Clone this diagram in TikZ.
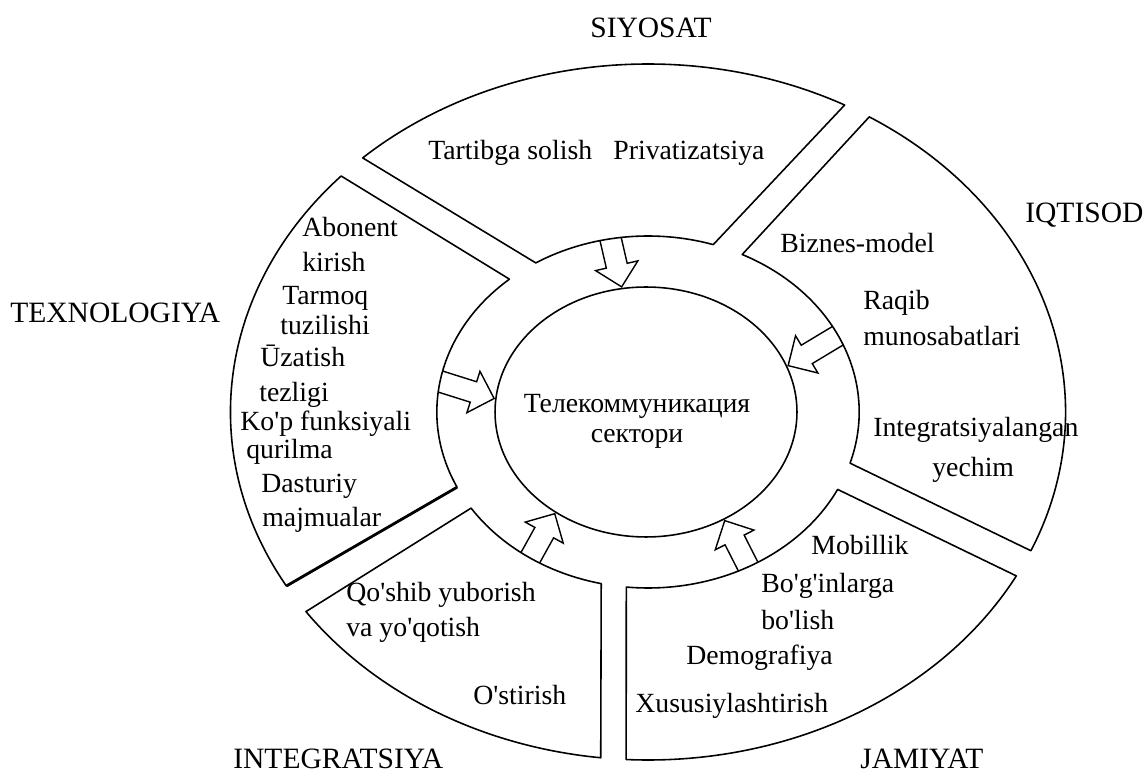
\documentclass[tikz,border=0pt]{standalone}
\usepackage{fontspec}
\setmainfont{Liberation Serif}
\usetikzlibrary{shapes.geometric,shapes.arrows,positioning}
\newcommand{\uzap}{\textquotesingle}

\begin{document}
\begin{tikzpicture}[x=0.02cm,y=-0.02cm,
  sector/.style={draw=black,fill=white,line width=0.9pt,line join=round},
  core/.style={ellipse,draw=black,line width=0.9pt,minimum width=6.04cm,
    minimum height=5cm,inner sep=0pt},
  flow/.style={single arrow,draw=black,fill=white,line width=0.8pt,
    single arrow head extend=0.22cm,single arrow tip angle=90,inner sep=0.2cm,
    minimum width=0pt,minimum height=#1,anchor=tip},
  item/.style={anchor=base west,inner sep=0pt,font=\fontsize{15.8}{18}\selectfont},
  field/.style={anchor=base west,inner sep=0pt,font=\fontsize{16.8}{20}\selectfont}]
  \useasboundingbox (0,0) rectangle (1147,776);

  % --- Markaz ---
  \node[core] (core) at (646,412) {};
  \node[inner sep=0pt,align=center,font=\fontsize{15.8}{17}\selectfont]
        (coreText) at (637,421) {Телекоммуникация\\сектори};

  % --- Strelkalar ---
  \node[flow=1.2cm,rotate=-77] (aSiyosat) at (core.101) {};
  \node[flow=1.28cm,rotate=211] (aIqtisod) at (core.18) {};
  \node[flow=1.36cm,rotate=-17.5] (aTexno) at (core.175) {};
  \node[flow=1.18cm,rotate=61] (aInteg) at (core.-132) {};
  \node[flow=1.26cm,rotate=117] (aJamiyat) at (core.-54) {};

  % --- Sektorlar (halqa) ---
  \begin{scope}[shift={(648,412)},x=0.024cm,y=0.02cm]
    \draw[sector] (72:176) -- (61.9:348) arc[start angle=61.9,end angle=133.1,radius=348]
      -- (122.1:176) arc[start angle=122.1,end angle=72,radius=176] -- cycle;           % siyosat
    \draw[sector] (63.5:176) -- (58:348) arc[start angle=58,end angle=-23.5,radius=348]
      -- (-16.9:176) arc[start angle=-16.9,end angle=63.5,radius=176] -- cycle;         % iqtisod
    \draw[sector] (-26.1:176) -- (-28.1:348) arc[start angle=-28.1,end angle=-93,radius=348]
      -- (-95.9:176) arc[start angle=-95.9,end angle=-26.1,radius=176] -- cycle;        % jamiyat
    \draw[sector] (-102.8:176) -- (-96.5:348) arc[start angle=-96.5,end angle=-145,radius=348]
      -- (-146.9:176) arc[start angle=-146.9,end angle=-102.8,radius=176] -- cycle;     % integratsiya
    \draw[sector] (-154.7:176) -- (-150:348) arc[start angle=-150,end angle=-222.7,radius=348]
      -- (131:176) arc[start angle=131,end angle=205.3,radius=176] -- cycle;             % texnologiya
    \draw[line width=1.6pt] (-154.7:176) -- (-150:348);
  \end{scope}

  % --- Yo'nalishlar ---
  \node[field] (lSiyosat) at (590,38) {SIYOSAT};
  \node[field] (lIqtisod) at (1025,223) {IQTISOD};
  \node[field] (lTexno) at (10,323) {TEXNOLOGIYA};
  \node[field] (lInteg) at (233,769) {INTEGRATSIYA};
  \node[field] (lJamiyat) at (860,769) {JAMIYAT};

  % --- Omillar ---
  \node[item] (s1) at (428,160) {Tartibga solish};
  \node[item] (s2) at (613,160) {Privatizatsiya};
  \node[item] (q1) at (780,253) {Biznes-model};
  \node[item] (q2) at (863,310) {Raqib};
  \node[item] (q3) at (863,346) {munosabatlari};
  \node[item] (q4) at (873,437) {Integratsiyalangan};
  \node[item] (q5) at (932,477) {yechim};
  \node[item] (t1) at (302,237) {Abonent};
  \node[item] (t2) at (302,272) {kirish};
  \node[item] (t3) at (282,305) {Tarmoq};
  \node[item] (t4) at (280,335) {tuzilishi};
  \node[item] (t5) at (260,367) {Ūzatish};
  \node[item] (t6) at (259,402) {tezligi};
  \node[item] (t7) at (240,431) {Ko\uzap p funksiyali};
  \node[item] (t8) at (246,459) {qurilma};
  \node[item] (t9) at (261,493) {Dasturiy};
  \node[item] (t10) at (262,527) {majmualar};
  \node[item] (i1) at (346,602) {Qo\uzap shib yuborish};
  \node[item] (i2) at (346,637) {va yo\uzap qotish};
  \node[item] (i3) at (473,705) {O\uzap stirish};
  \node[item] (j1) at (811,555) {Mobillik};
  \node[item] (j2) at (761,593) {Bo\uzap g\uzap inlarga};
  \node[item] (j3) at (761,630) {bo\uzap lish};
  \node[item] (j4) at (686,665) {Demografiya};
  \node[item] (j5) at (635,713) {Xususiylashtirish};
\end{tikzpicture}
\end{document}
